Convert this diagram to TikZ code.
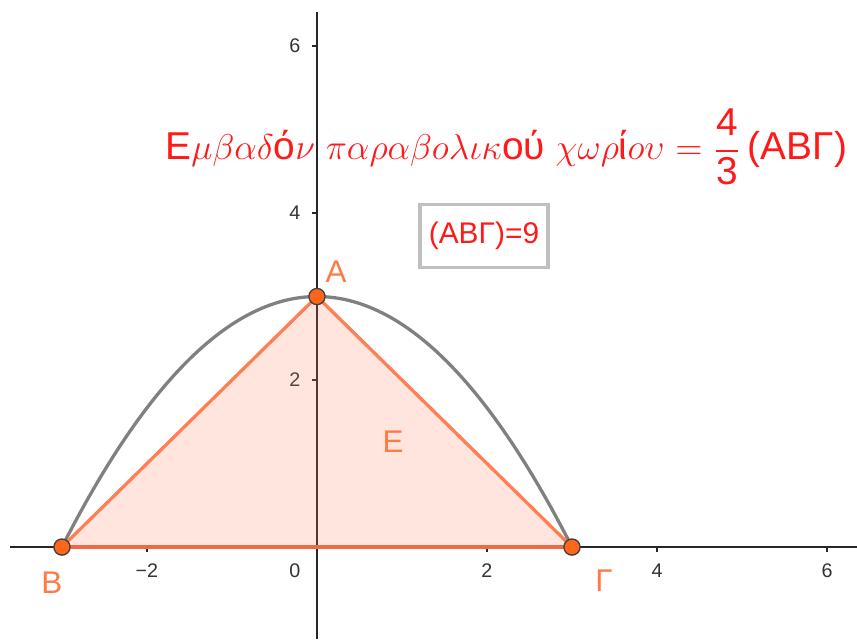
\documentclass[tikz,border=0pt]{standalone}
\usepackage{fontspec}
\setmainfont{Liberation Sans}
\definecolor{ptfill}{HTML}{FF6619}
\definecolor{triedge}{HTML}{FF7F55}
\definecolor{basecol}{HTML}{EE6A45}
\definecolor{lblcol}{HTML}{FF7A45}
\definecolor{curvecol}{HTML}{808080}
\definecolor{titlered}{HTML}{FF1A1A}
\tikzset{
  axisline/.style={line width=0.5pt, black!85},
  ticklabel/.style={font=\fontsize{6.6}{8}\selectfont, text=black!80, inner sep=0pt},
  ptlabel/.style={font=\fontsize{10.5}{12}\selectfont, text=lblcol, inner sep=0pt},
  pt/.style={circle, fill=ptfill, draw=black!75, line width=0.45pt, minimum size=0.19cm, inner sep=0pt},
  triedgestyle/.style={draw=triedge, line width=1.1pt, line join=round},
  curve/.style={draw=curvecol, line width=1.1pt},
}
\begin{document}
\begin{tikzpicture}[x=1cm, y=0.9824cm]
\useasboundingbox (-3.729,-1.102) rectangle (6.353,6.551);
% axes
\draw[axisline] (-3.612,0) -- (6.353,0);
\draw[axisline] (0,-1.102) -- (0,6.407);
\foreach \v in {-2,2,4,6} {\draw[axisline] (\v,0) -- (\v,-0.06);}
\foreach \v in {2,4,6} {\draw[axisline] (0,\v) -- (-0.06,\v);}
\node[ticklabel] (tm2) at (-2,-0.28) {−2};
\node[ticklabel] (t0) at (-0.26,-0.28) {0};
\node[ticklabel] (tx2) at (2,-0.28) {2};
\node[ticklabel] (tx4) at (4,-0.28) {4};
\node[ticklabel] (tx6) at (6,-0.28) {6};
\node[ticklabel] (ty2) at (-0.26,2) {2};
\node[ticklabel] (ty4) at (-0.26,4) {4};
\node[ticklabel] (ty6) at (-0.26,6) {6};
% parabola
\draw[curve] plot[domain=-3:3, samples=80, smooth] (\x,{3-\x*\x/3});
% triangle
\coordinate (a) at (0,3);
\coordinate (b) at (-3,0);
\coordinate (g) at (3,0);
\fill[triedge, fill opacity=0.2] (a) -- (b) -- (g) -- cycle;
\draw[triedgestyle] (b) -- (a) -- (g);
\draw[triedgestyle, draw=basecol] (b) -- (g);
% points
\node[pt] (pA) at (a) {};
\node[pt] (pB) at (b) {};
\node[pt] (pG) at (g) {};
\node[ptlabel] (lA) at (0.224,3.293) {Α};
\node[ptlabel] (lB) at (-3.118,-0.431) {Β};
\node[ptlabel] (lG) at (3.376,-0.407) {Γ};
\node[ptlabel] (lE) at (0.894,1.257) {Ε};
% texts
\node[anchor=base west, inner sep=0pt, text=titlered, font=\fontsize{13}{15}\selectfont] (title) at (-1.788,4.635)
  {Ε$\mu\beta\alpha\delta$ό$\nu$ $\pi\alpha\rho\alpha\beta o\lambda\iota\kappa$ού $\chi\omega\rho$ί$o\upsilon$ $\displaystyle=\frac{\mbox{4}}{\mbox{3}}$\,(ΑΒΓ)};
\node[draw=black!25, line width=1.1pt, text=titlered, font=\fontsize{10}{12}\selectfont, inner xsep=3pt, inner ysep=6pt, minimum width=1.48cm] (area) at (1.965,3.725) {(ΑΒΓ)=9};
\end{tikzpicture}
\end{document}
